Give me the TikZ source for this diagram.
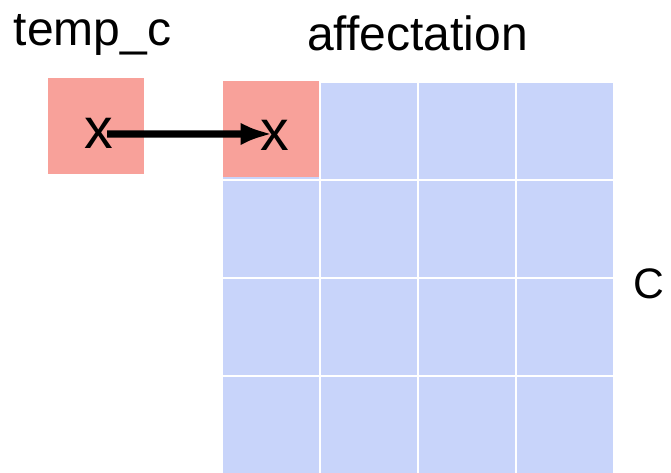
\documentclass[tikz,border=0pt]{standalone}
\usepackage{fontspec}
\setmainfont{Liberation Sans}
\usetikzlibrary{arrows.meta}
\definecolor{cellred}{RGB}{248,161,154}
\definecolor{cellblue}{RGB}{200,212,250}

\begin{document}
\begin{tikzpicture}[x=0.75pt,y=-0.75pt,
    cell/.style={fill=cellblue, minimum size=72pt, inner sep=0pt, anchor=north west},
    redcell/.style={cell, fill=cellred},
    lbl/.style={font=\fontsize{36}{40}\selectfont, inner sep=0pt, anchor=base},
    var/.style={font=\fontsize{43}{46}\selectfont, inner sep=0pt, anchor=base}]
        \useasboundingbox (0,0) rectangle (671,472);
        \foreach \r in {0,...,3}
          \foreach \c in {0,...,3}
            \node[cell] (cell-\r-\c) at (223+98*\c,83+98*\r) {};
        \node[redcell] (cell-0-0) at (223,81) {};
        \node[redcell] (tempc) at (47.5,78) {};
        \node[lbl] (tempclbl) at (92.5,45) {temp\_c};
        \node[lbl] (afflbl) at (417.5,50) {affectation};
        \node[lbl, font=\fontsize{32}{36}\selectfont] (clbl) at (649,298) {C};
        \node[var] (xsrc) at (99,148) {x};
        \node[var] (xdst) at (274.5,150.5) {x};
        \draw[line width=5.5pt, -{Latex[length=24pt,width=17pt]}] ([xshift=6pt,yshift=10.5pt]xsrc.base) -- ([xshift=-1.5pt,yshift=12.4pt]xdst.base);
      \end{tikzpicture}
\end{document}
